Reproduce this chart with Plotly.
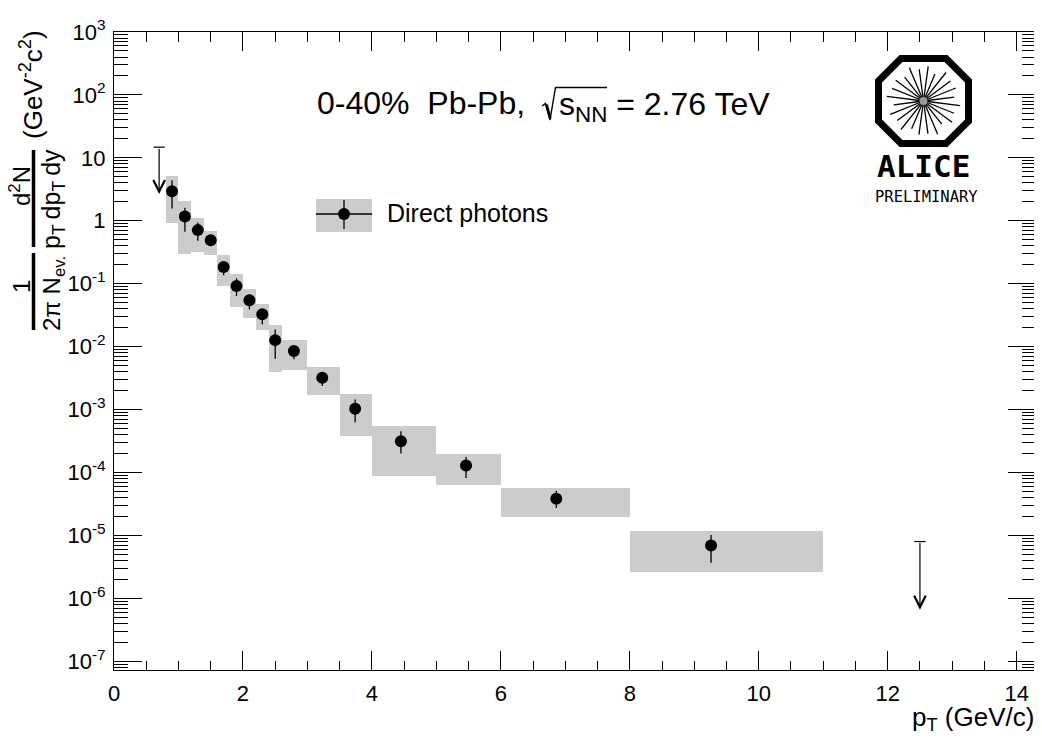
import math
import plotly.graph_objects as go

# ---------------- data ----------------
bin_lo = [0.8, 1.0, 1.2, 1.4, 1.6, 1.8, 2.0, 2.2, 2.4, 2.6, 3.0, 3.5, 4.0, 5.0, 6.0, 8.0]
bin_hi = [1.0, 1.2, 1.4, 1.6, 1.8, 2.0, 2.2, 2.4, 2.6, 3.0, 3.5, 4.0, 5.0, 6.0, 8.0, 11.0]
pt = [0.9, 1.1, 1.3, 1.5, 1.7, 1.9, 2.1, 2.3, 2.5, 2.79, 3.23, 3.74, 4.45, 5.46, 6.86, 9.26]
yield_val = [2.94, 1.17, 0.711, 0.49, 0.185, 0.092, 0.0546, 0.0327, 0.0127, 0.0085,
             0.0032, 0.00103, 3.14e-4, 1.29e-4, 3.84e-5, 6.93e-6]
stat_hi = [4.4, 1.61, 0.94, 0.55, 0.222, 0.122, 0.068, 0.039, 0.0188, 0.0102,
           0.00385, 0.00145, 4.53e-4, 1.77e-4, 5.15e-5, 1.02e-5]
stat_lo = [1.57, 0.67, 0.48, 0.43, 0.136, 0.064, 0.039, 0.0227, 0.0064, 0.0063,
           0.00236, 0.00063, 2.0e-4, 8.2e-5, 2.73e-5, 3.7e-6]
sys_hi = [5.15, 2.04, 1.09, 0.69, 0.284, 0.142, 0.0817, 0.0472, 0.0221, 0.0126,
          0.0048, 0.00174, 5.58e-4, 2.0e-4, 5.75e-5, 1.19e-5]
sys_lo = [0.91, 0.30, 0.32, 0.29, 0.092, 0.0428, 0.0282, 0.0182, 0.0040, 0.0042,
          0.0017, 3.77e-4, 8.7e-5, 6.25e-5, 1.94e-5, 2.58e-6]
ul_pt = [0.7, 12.5]
ul_top = [14.8, 8.0e-6]
ul_tip = [2.66, 6.6e-7]

y_tickvals = [1e-7, 1e-6, 1e-5, 1e-4, 1e-3, 1e-2, 1e-1, 1, 10, 100, 1000]
y_ticktext = ["10<sup>-7</sup>", "10<sup>-6</sup>", "10<sup>-5</sup>", "10<sup>-4</sup>",
              "10<sup>-3</sup>", "10<sup>-2</sup>", "10<sup>-1</sup>", "1", "10",
              "10<sup>2</sup>", "10<sup>3</sup>"]
x_tickvals = [0, 2, 4, 6, 8, 10, 12, 14]
x_ticktext = ["0", "2", "4", "6", "8", "10", "12", "14"]

# ---------------- geometry helpers ----------------
# page has an 8px body margin; plot area in page pixels: x 114..1036, y 32..670
OFF = 8
X0, X1, Y0, Y1 = 114, 1036, 32, 670
W, H = 1034, 735
L, T = X0 - OFF, Y0 - OFF
R = W - (X1 - OFF)
B = H - (Y1 - OFF)
PW, PH = X1 - X0, Y1 - Y0
FONT = "Liberation Sans, Arial, sans-serif"


def px(x):
    return (x - X0) / PW


def py(y):
    return (Y1 - y) / PH


fig = go.Figure()

# systematic boxes
fig.add_trace(go.Bar(
    x=[(a + b) / 2 for a, b in zip(bin_lo, bin_hi)],
    y=[h - l for h, l in zip(sys_hi, sys_lo)],
    base=sys_lo,
    width=[b - a for a, b in zip(bin_lo, bin_hi)],
    marker=dict(color="#cccccc", line=dict(width=0)),
    showlegend=False, hoverinfo="skip",
))

# points with statistical errors
fig.add_trace(go.Scatter(
    x=pt, y=yield_val, mode="markers",
    marker=dict(color="black", size=12, symbol="circle"),
    error_y=dict(type="data", symmetric=False,
                 array=[h - v for h, v in zip(stat_hi, yield_val)],
                 arrayminus=[v - l for l, v in zip(stat_lo, yield_val)],
                 color="black", thickness=1.3, width=0),
    showlegend=False,
))

# upper limit caps
fig.add_trace(go.Scatter(
    x=ul_pt, y=ul_top, mode="markers",
    marker=dict(symbol="line-ew", size=8, color="black",
                line=dict(width=1.2, color="black")),
    showlegend=False, hoverinfo="skip",
))

annotations = []
for x, top, tip in zip(ul_pt, ul_top, ul_tip):
    annotations.append(dict(
        x=x, y=math.log10(tip), ax=x, ay=math.log10(top),
        xref="x", yref="y", axref="x", ayref="y",
        text="", showarrow=True, arrowhead=5, arrowsize=1.9,
        arrowwidth=1.2, arrowcolor="black", standoff=0,
    ))


def txt(text, x, y, size, xanchor="left", angle=0, family=FONT):
    annotations.append(dict(
        x=px(x), y=py(y), xref="paper", yref="paper", xanchor=xanchor, yanchor="middle",
        text=text, textangle=angle, showarrow=False,
        font=dict(family=family, size=size, color="black"),
    ))


# header text
txt("0-40%\u00a0\u00a0Pb-Pb,", 315, 103, 32)
txt("s<sub>NN</sub> = 2.76 TeV", 557, 106, 32)

# legend text
txt("Direct photons", 385, 213, 25)

# x-axis title
txt("p<sub>T</sub> (GeV/c)", X1, 718, 26, xanchor="right")

# y-axis title pieces (rotated)
txt("1", 21, 287, 24, "center", -90)
txt("2\u03c0 N<sub>ev.</sub>", 53, 293, 24, "center", -90)
txt("d<sup>2</sup>N", 20, 186, 24, "center", -90)
txt("p<sub>T</sub>\u2009dp<sub>T</sub>\u2009dy", 53, 199, 25, "center", -90)
txt("(GeV<sup>-2</sup>c<sup>2</sup>)", 31, 85, 26, "center", -90)

# ALICE logo text
txt("<b>ALICE</b>", 923, 166, 31, "center", family="DejaVu Sans Mono")
txt("PRELIMINARY", 926, 197, 15.5, "center", family="DejaVu Sans Mono")

shapes = []
# fraction bars of y title
for y0, y1 in [(253, 330), (150, 247)]:
    shapes.append(dict(type="line", xref="paper", yref="paper",
                       x0=px(33.5), x1=px(33.5), y0=py(y0), y1=py(y1),
                       line=dict(color="black", width=3.5)))

# square-root sign with overline
sq = [(542, 106), (545.5, 103.5), (550, 120), (555.5, 87.5), (607, 87.5)]
shapes.append(dict(type="path", xref="paper", yref="paper",
                   path="M " + " L ".join(f"{px(a):.5f},{py(b):.5f}" for a, b in sq),
                   line=dict(color="black", width=1.4)))
shapes.append(dict(type="line", xref="paper", yref="paper",
                   x0=px(546.5), y0=py(104.5), x1=px(550.3), y1=py(118.5),
                   line=dict(color="black", width=2.8)))

# legend symbol
shapes.append(dict(type="rect", xref="paper", yref="paper",
                   x0=px(316), x1=px(372), y0=py(232), y1=py(199),
                   fillcolor="#cccccc", line=dict(width=0), layer="above"))
shapes.append(dict(type="line", xref="paper", yref="paper",
                   x0=px(316), x1=px(372), y0=py(214), y1=py(214),
                   line=dict(color="black", width=1.3), layer="above"))
shapes.append(dict(type="line", xref="paper", yref="paper",
                   x0=px(344), x1=px(344), y0=py(200), y1=py(229),
                   line=dict(color="black", width=1.3), layer="above"))
shapes.append(dict(type="circle", xref="paper", yref="paper",
                   x0=px(338), x1=px(350), y0=py(220), y1=py(208),
                   fillcolor="black", line=dict(width=0), layer="above"))

# ALICE octagon
cx, cy = 923.5, 101
octo = [(901, 58.5), (946, 58.5), (968.5, 81), (968.5, 121),
        (946, 143.5), (901, 143.5), (878.5, 121), (878.5, 81)]
path = "M " + " L ".join(f"{px(a):.5f},{py(b):.5f}" for a, b in octo) + " Z"
shapes.append(dict(type="path", xref="paper", yref="paper", path=path,
                   line=dict(color="black", width=7), fillcolor="white", layer="above"))
ray_len = [37, 33, 36, 30, 37, 34, 35, 31, 37, 33, 36, 30,
           37, 34, 35, 31, 37, 33, 36, 30, 37, 34, 35, 31]
for i, rl in enumerate(ray_len):
    ang = math.radians(i * 15 + 7.5)
    shapes.append(dict(type="line", xref="paper", yref="paper",
                       x0=px(cx + 2 * math.cos(ang)), y0=py(cy + 2 * math.sin(ang)),
                       x1=px(cx + rl * math.cos(ang)), y1=py(cy + rl * math.sin(ang) * 0.97),
                       line=dict(color="black", width=1.3), layer="above"))
shapes.append(dict(type="circle", xref="paper", yref="paper",
                   x0=px(cx - 4), x1=px(cx + 4), y0=py(cy + 4), y1=py(cy - 4),
                   fillcolor="#999999", line=dict(width=0), layer="above"))

fig.update_layout(
    width=W, height=H,
    margin=dict(l=L, r=R, t=T, b=B, pad=0),
    paper_bgcolor="white", plot_bgcolor="white",
    font=dict(family=FONT, size=22, color="black"),
    barmode="overlay", bargap=0,
    showlegend=False,
    annotations=annotations, shapes=shapes,
)
fig.update_xaxes(
    range=[0, 14.3], tickvals=x_tickvals, ticktext=x_ticktext,
    ticks="inside", ticklen=19, tickwidth=1, tickcolor="black",
    minor=dict(ticks="inside", dtick=0.5, tick0=0, ticklen=9.5, tickwidth=1, tickcolor="black"),
    showline=True, linecolor="black", linewidth=1, mirror="allticks",
    showgrid=False, zeroline=False, tickfont=dict(size=22), ticklabelstandoff=4,
)
fig.update_yaxes(
    type="log", range=[-7.138, 3.0], tickvals=y_tickvals, ticktext=y_ticktext,
    ticks="inside", ticklen=28, tickwidth=1, tickcolor="black",
    minor=dict(ticks="inside", dtick="D1", ticklen=14, tickwidth=1, tickcolor="black"),
    showline=True, linecolor="black", linewidth=1, mirror="allticks",
    showgrid=False, zeroline=False, tickfont=dict(size=22), ticklabelstandoff=3,
)

fig.write_html("out.html")
